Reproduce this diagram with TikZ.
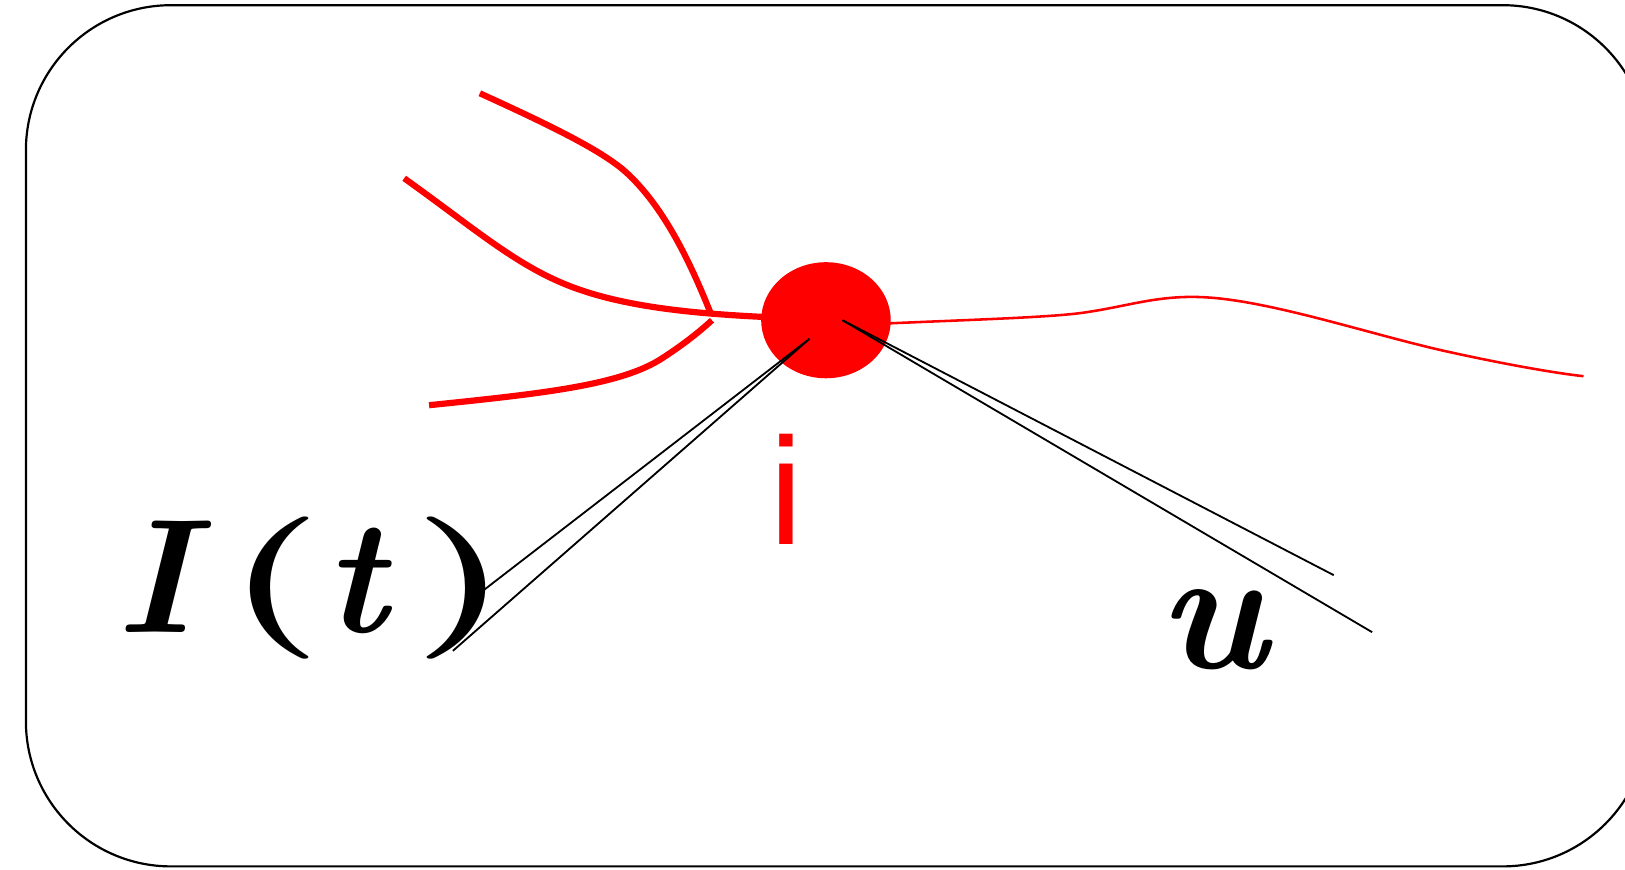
\documentclass[tikz,border=0pt]{standalone}
\usepackage{graphicx}
\usepackage{fontspec}
\newfontfamily\arialf{Liberation Sans}
\usetikzlibrary{shapes.geometric}
\tikzset{
  frame/.style={draw=black, line width=0.6pt, rounded corners=14mm},
  thickred/.style={draw=red, line width=1.7pt},
  thinred/.style={draw=red, line width=0.7pt},
  wire/.style={draw=black, line width=0.5pt},
  neuron/.style={ellipse, fill=red, draw=none, minimum width=12.5mm, minimum height=11.2mm, inner sep=0pt},
  lbl/.style={inner sep=0pt, anchor=base}
}
\newcommand{\bigsym}{\fontsize{44.6}{52}\selectfont}
\newcommand{\parsym}[1]{\raisebox{0.8mm}{\fontsize{39}{46}\selectfont\bfseries\scalebox{1.55}[1]{#1}}}
\begin{document}
\begin{tikzpicture}[x=0.1mm,y=-0.1mm]
\path[use as bounding box] (0,0) rectangle (1568,839);
\clip (0,0) rectangle (1568,839);
\draw[frame] (25,5) rectangle (1590,836);

% red dendrites
\path[thickred] (463,90) .. controls (540,125) and (585,148) .. (606,168)
  .. controls (640,200) and (665,250) .. (686,303);
\path[thickred] (390,172) .. controls (460,222) and (500,258) .. (555,278)
  .. controls (610,298) and (680,303) .. (740,306);
\path[thickred] (414,391) .. controls (520,380) and (600,372) .. (640,345)
  .. controls (660,332) and (675,320) .. (687,309);

\node[neuron] (n) at (797,309) {};

% axon
\path[thinred] (858,312) .. controls (950,308) and (1020,306) .. (1050,301)
  .. controls (1090,295) and (1120,284) .. (1165,287)
  .. controls (1230,291) and (1330,325) .. (1400,340)
  .. controls (1450,351) and (1500,360) .. (1528,363);

% wires
\coordinate (cl) at (781,327);
\coordinate (cr) at (813,309);
\coordinate (l1) at (466,570);
\coordinate (l2) at (437,628);
\coordinate (r1) at (1287,555);
\coordinate (r2) at (1324,610);
\draw[wire] (cl) -- (l1);
\draw[wire] (cl) -- (l2);
\draw[wire] (cr) -- (r1);
\draw[wire] (cr) -- (r2);

% labels
\node[lbl, text=red, font=\arialf\fontsize{41.8}{50}\selectfont] (ilbl) at (759,525) {i};
\node[lbl, font=\fontsize{48}{56}\selectfont\bfseries\itshape] (ulbl) at (1170,645) {u};
\node[inner sep=0pt, anchor=base west, font=\bigsym] (itlbl) at (112,610)
  {{\bfseries\itshape I}\kern 3.2mm\parsym{(}\kern 0.1mm{\bfseries\itshape t}\kern 2.6mm\parsym{)}};
\end{tikzpicture}
\end{document}
